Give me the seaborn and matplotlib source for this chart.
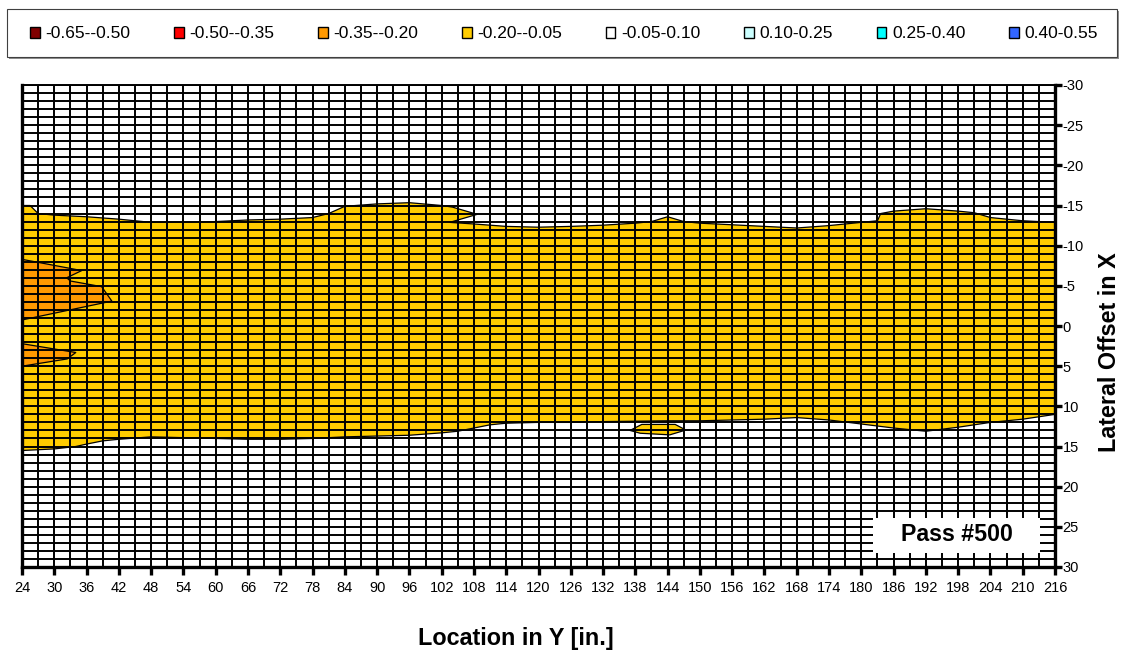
import numpy as np
import matplotlib
matplotlib.use("Agg")
import matplotlib.pyplot as plt
import seaborn as sns
from matplotlib.patches import Patch, Rectangle

# ---------------- data ----------------
band_labels = ['-0.65--0.50', '-0.50--0.35', '-0.35--0.20', '-0.20--0.05',
               '-0.05-0.10', '0.10-0.25', '0.25-0.40', '0.40-0.55']
band_colors = ['#800000', '#FF0000', '#FF9900', '#FFCC00',
               '#FFFFFF', '#CCFFFF', '#00FFFF', '#3366FF']

x_ticks = list(range(24, 217, 6))
y_ticks = list(range(-30, 31, 5))
x_grid = list(range(24, 217, 3))
y_grid = list(range(-30, 31, 1))

# -0.20--0.05 band : upper edge (left -> right)
upper_x = [24, 25.5, 27, 30, 36, 42, 48, 54, 60, 66, 72, 78, 81, 84, 90, 96, 102, 104,
           108.6, 103.5, 108, 114, 120, 126, 132, 138, 141, 144, 147, 150, 156, 162,
           168, 174, 180, 183, 183.6, 186, 192, 198, 201, 204, 210, 216]
upper_y = [-15.0, -15.0, -14.0, -13.8, -13.6, -13.3, -12.9, -12.9, -13.0, -13.2, -13.3,
           -13.5, -14.0, -14.9, -15.2, -15.35, -15.0, -14.8,
           -13.9, -12.9, -12.7, -12.4, -12.3, -12.4, -12.55, -12.8, -13.0, -13.6, -13.0,
           -12.8, -12.6, -12.4, -12.2, -12.5, -12.9, -13.1, -14.0, -14.3, -14.6, -14.3,
           -14.1, -13.5, -13.1, -12.9]
# -0.20--0.05 band : lower edge (left -> right)
lower_x = [24, 30, 34, 36, 39, 42, 48, 54, 60, 66, 72, 78, 84, 90, 96, 102, 105, 108,
           111, 114, 120, 126, 132, 138, 144, 150, 156, 162, 168, 174, 180, 186, 192,
           198, 204, 210, 216]
lower_y = [15.5, 15.3, 15.0, 14.7, 14.3, 14.1, 13.8, 13.9, 14.0, 14.1, 14.1, 14.0, 13.8,
           13.7, 13.6, 13.3, 13.1, 12.7, 12.3, 12.1, 12.0, 12.0, 11.9, 11.85, 11.8, 11.8,
           11.7, 11.6, 11.4, 11.7, 12.2, 12.7, 13.1, 12.6, 12.0, 11.6, 11.0]
# small -0.20--0.05 island below the band
island_x = [137.0, 139.2, 145.4, 147.4, 144.4, 138.9]
island_y = [13.0, 12.25, 12.25, 12.95, 13.55, 13.35]
# -0.35--0.20 patches at the left edge
orange1_x = [24, 35.1, 32.3, 33.0, 38.8, 40.7, 24]
orange1_y = [-8.3, -6.9, -6.0, -5.6, -4.9, -3.1, -0.75]
orange2_x = [24, 34.0, 32.4, 24]
orange2_y = [2.2, 3.3, 4.1, 5.0]

# ---------------- style ----------------
sns.set_theme(style='white')
plt.rcParams['font.family'] = ['Liberation Sans', 'DejaVu Sans']
plt.rcParams['axes.unicode_minus'] = False
for key in ['text.color', 'axes.labelcolor', 'xtick.color', 'ytick.color']:
    plt.rcParams[key] = 'black'

W, H = 1123, 654
fig = plt.figure(figsize=(W / 100, H / 100), dpi=100)
fig.patch.set_facecolor('white')
ax = fig.add_axes([22 / W, 1 - 567 / H, 1033 / W, 482 / H])
ax.set_facecolor('white')
ax.set_xlim(24, 216)
ax.set_ylim(30, -30)

# filled regions
yel_x = upper_x + lower_x[::-1]
yel_y = upper_y + lower_y[::-1]
ax.fill(yel_x, yel_y, color=band_colors[3], lw=0, zorder=1)
ax.fill(island_x, island_y, color=band_colors[3], lw=0, zorder=1)
ax.fill(orange1_x, orange1_y, color=band_colors[2], lw=0, zorder=1.2)
ax.fill(orange2_x, orange2_y, color=band_colors[2], lw=0, zorder=1.2)

# contour boundary lines
for xs, ys, closed in [(upper_x, upper_y, False), (lower_x, lower_y, False),
                       (island_x, island_y, True), (orange1_x, orange1_y, False),
                       (orange2_x, orange2_y, False)]:
    xx = list(xs) + ([xs[0]] if closed else [])
    yy = list(ys) + ([ys[0]] if closed else [])
    sns.lineplot(x=xx, y=yy, sort=False, estimator=None, color='black',
                 lw=0.9, ax=ax, zorder=2)

# grid
ax.set_xticks(x_ticks)
ax.set_xticks(x_grid, minor=True)
ax.set_yticks(y_ticks)
ax.set_yticks(y_grid, minor=True)
ax.set_xticklabels([str(v) for v in x_ticks])
ax.set_yticklabels([str(v) for v in y_ticks])
ax.grid(True, which='both', color='black', lw=1.4)
ax.set_axisbelow(False)
ax.set_xlim(24, 216)
ax.set_ylim(30, -30)

ax.yaxis.tick_right()
ax.tick_params(which='minor', length=0)
ax.tick_params(axis='x', which='major', bottom=True, top=False, direction='out',
               length=6, width=2.4, pad=4, labelsize=10.5, color='black',
               labelcolor='black')
ax.tick_params(axis='y', which='major', right=True, left=False, direction='out',
               length=5, width=2.4, pad=0.5, labelsize=10.5, color='black',
               labelcolor='black')
for name, s in ax.spines.items():
    s.set_color('black')
    s.set_linewidth(2.4 if name != 'top' else 1.4)
    s.set_visible(True)
ax.set_xlabel('')
ax.set_ylabel('')

# Pass box
ax.add_patch(Rectangle((182.2, 23.9), 31.0, 4.36, facecolor='white', edgecolor='none',
                       zorder=3))
ax.text(197.7, 26.77, 'Pass #500', ha='center', va='baseline', fontsize=16.7,
        fontweight='bold', color='black', zorder=4)

# axis titles
fig.text(516 / W, 1 - 638 / H, 'Location in Y [in.]', ha='center', va='center',
         fontsize=16.8, fontweight='bold', color='black')
fig.text(1110 / W, 1 - 352 / H, 'Lateral Offset in X', ha='center', va='center',
         rotation=90, fontsize=16.8, fontweight='bold', color='black')

# legend frame
fig.patches.append(Rectangle((9 / W, 1 - 59 / H), 1110 / W, 48 / H,
                             transform=fig.transFigure, facecolor='#909090',
                             edgecolor='none', zorder=0))
fig.patches.append(Rectangle((7 / W, 1 - 57 / H), 1110 / W, 48 / H,
                             transform=fig.transFigure, facecolor='white',
                             edgecolor='#404040', lw=0.8, zorder=1))
handles = [Patch(facecolor=c, edgecolor='black', lw=1.0, label=l)
           for c, l in zip(band_colors, band_labels)]
fig.legend(handles=handles, ncol=8, loc='center left',
           bbox_to_anchor=(30 / W, 1 - 34 / H), frameon=False, fontsize=12.5,
           handlelength=0.55, handleheight=0.55, handletextpad=0.35,
           columnspacing=2.5, borderaxespad=0, borderpad=0)

fig.savefig('out.png', dpi=100)
